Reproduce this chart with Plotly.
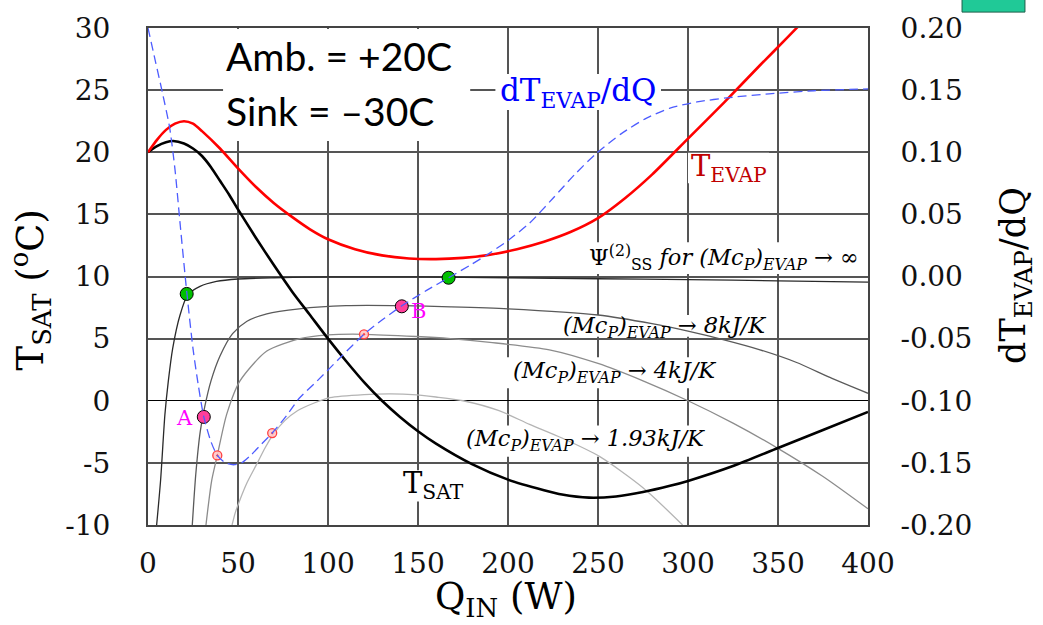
import plotly.graph_objects as go

# ---------------- data ----------------
Q_sat = [0, 5, 10, 14, 20, 25, 30, 35, 40, 45, 50, 60, 70, 80, 90, 100, 110, 120, 130, 140,
         150, 160, 180, 200, 220, 230, 245, 260, 275, 290, 300, 325, 350, 375, 400]
T_sat = [20, 20.5, 20.8, 20.9, 20.7, 20.3, 19.7, 18.8, 17.7, 16.6, 15.4, 13.1, 10.9, 8.8, 6.9, 5.0,
         3.2, 1.5, 0.0, -1.3, -2.45, -3.45, -5.1, -6.35, -7.2, -7.55, -7.8, -7.7, -7.35, -6.85,
         -6.45, -5.25, -3.8, -2.35, -0.9]

Q_evap = [0, 5, 10, 15, 20, 25, 30, 40, 50, 60, 70, 80, 90, 100, 115, 130, 145, 160, 175, 190,
          205, 220, 235, 250, 265, 280, 300, 320, 340, 355, 365]
T_evap = [20, 21.0, 21.8, 22.3, 22.5, 22.3, 21.7, 20.3, 18.7, 17.2, 15.9, 14.8, 13.8, 13.0, 12.2,
          11.7, 11.45, 11.4, 11.5, 11.75, 12.2, 12.8, 13.6, 14.7, 16.3, 18.2, 21.1, 24.0, 27.0, 29.2, 30.7]

Q_dtdq = [0, 4, 8, 12, 15, 18, 21.5, 25, 28, 31, 35, 38.5, 43, 47.5, 52, 57, 63, 69, 77, 84, 94,
          107, 120, 130, 141, 155, 167, 180, 190, 200, 212, 225, 237, 249, 263, 277, 290, 305, 323,
          345, 370, 400]
dTdQ = [0.200, 0.174, 0.148, 0.120, 0.086, 0.040, -0.012, -0.058, -0.088, -0.113, -0.133, -0.144,
        -0.150, -0.1515, -0.150, -0.144, -0.135, -0.126, -0.112, -0.098, -0.084, -0.065, -0.0465,
        -0.035, -0.0236, -0.011, -0.001, 0.010, 0.019, 0.029, 0.043, 0.063, 0.082, 0.099, 0.115,
        0.1275, 0.1355, 0.1405, 0.144, 0.147, 0.1495, 0.151]

Q_inf = [4.8, 7.0, 9.4, 11.3, 13.7, 17.8, 22, 28.9, 38, 50, 70, 100, 150, 200, 250, 300, 350, 400]
T_inf = [-10, -6.4, -1.1, 1.6, 4.2, 6.9, 8.5, 9.2, 9.6, 9.8, 9.9, 9.97, 9.97, 9.9, 9.82, 9.75, 9.65, 9.55]

Q_8k = [24.6, 26.5, 29, 31.5, 35, 40, 47, 55, 66, 84, 110, 141, 168, 200, 250, 280, 300, 320, 340,
        360, 380, 400]
T_8k = [-10, -6, -2.5, -0.5, 1.6, 3.6, 5.4, 6.4, 7.0, 7.4, 7.65, 7.65, 7.56, 7.4, 6.9, 6.2, 5.6,
        4.9, 4.1, 3.1, 1.8, 0.6]

Q_4k = [32.2, 35.4, 38.5, 43.7, 51.1, 66, 84.4, 100, 119.6, 149, 168, 190, 223, 250, 275, 300, 325,
        349, 375, 400]
T_4k = [-10, -6.4, -4.4, -1.1, 1.6, 4.0, 5.0, 5.3, 5.35, 5.17, 5.0, 4.7, 4.1, 3.0, 1.6, 0.0, -1.8,
        -3.75, -6.1, -8.7]

Q_193 = [46.7, 48.5, 51, 55, 60.4, 65, 69.6, 76, 83, 92, 101, 120, 135, 147, 160, 175, 195, 212,
         230, 251, 275, 297]
T_193 = [-10, -9.0, -8.0, -6.6, -5.1, -3.8, -2.7, -1.6, -0.8, -0.2, 0.25, 0.5, 0.55, 0.5, 0.3, 0.0,
         -0.8, -1.9, -3.0, -4.5, -7.0, -10]

green_Q = [21.5, 167]
green_T = [8.6, 9.9]
pink_Q = [31, 141]
pink_T = [-1.3, 7.6]
pink_labels = ["A", "B"]
red_Q = [38.5, 69, 120]
red_T = [-4.4, -2.6, 5.35]

x_ticks = [0, 50, 100, 150, 200, 250, 300, 350, 400]
y_ticks = [-10, -5, 0, 5, 10, 15, 20, 25, 30]
y2_ticks = [-0.20, -0.15, -0.10, -0.05, 0.00, 0.05, 0.10, 0.15, 0.20]

# ---------------- figure ----------------
fig = go.Figure()

def curve(q, t, color, width, yaxis="y", dash=None):
    fig.add_trace(go.Scatter(x=q, y=t, mode="lines", yaxis=yaxis,
                             line=dict(color=color, width=width, dash=dash, shape="spline", smoothing=0.7),
                             hoverinfo="skip", showlegend=False))

curve(Q_193, T_193, "#b4b4b4", 1.3)
curve(Q_4k, T_4k, "#8c8c8c", 1.3)
curve(Q_8k, T_8k, "#5a5a5a", 1.3)
curve(Q_inf, T_inf, "#2a2a2a", 1.3)
curve(Q_sat, T_sat, "#000000", 2.6)
curve(Q_evap, T_evap, "#ff0000", 2.6)
curve(Q_dtdq, dTdQ, "#4d5cff", 1.3, yaxis="y2", dash="9px,5px")

fig.add_trace(go.Scatter(x=red_Q, y=red_T, mode="markers", showlegend=False, hoverinfo="skip",
                         marker=dict(symbol="circle-dot", size=9, color="rgba(255,200,200,0.9)",
                                     line=dict(color="#ff4040", width=1.3))))
fig.add_trace(go.Scatter(x=green_Q, y=green_T, mode="markers", showlegend=False, hoverinfo="skip",
                         marker=dict(symbol="circle", size=13, color="#00c000",
                                     line=dict(color="#000000", width=1))))
fig.add_trace(go.Scatter(x=pink_Q, y=pink_T, mode="markers", showlegend=False, hoverinfo="skip",
                         marker=dict(symbol="circle", size=13, color="#ff3f9a",
                                     line=dict(color="#000000", width=1))))

serif = "DejaVu Serif"

# white boxes behind labels (above grid, below curves)
boxes = [
    (41.7, 179, 20.9, 29.92),
    (193, 285, 23.4, 26.3),
    (300, 345, 17.5, 19.95),
    (244, 394.5, 10.2, 12.75),
    (225, 348, 5.15, 6.9),
    (199, 322, 1.0, 3.5),
    (171, 320, -4.5, -2.0),
    (141, 176, -8.1, -5.6),
]
for x0, x1, y0, y1 in boxes:
    fig.add_shape(type="rect", xref="x", yref="y", x0=x0, x1=x1, y0=y0, y1=y1,
                  fillcolor="white", line=dict(width=0), layer="between")

ann = []
def text(x, y, s, size, color="black", family=serif, xanchor="center", **kw):
    ann.append(dict(x=x, y=y, xref="x", yref="y", text=s, showarrow=False, xanchor=xanchor,
                    yanchor="middle", font=dict(size=size, color=color, family=family), **kw))

text(42.0, 27.75, "Amb. = +20C", 39, family="Lato", xanchor="left")
text(42.0, 23.3, "Sink = \u201330C", 39, family="Lato", xanchor="left")
text(239, 24.8, "dT<sub>EVAP</sub>/dQ", 31, color="#0000ff")
text(323, 18.7, "T<sub>EVAP</sub>", 29, color="#c00000")
text(320, 11.55, "\u03a8<sup>(2)</sup><sub>SS</sub> <i>for (Mc<sub>P</sub>)<sub>EVAP</sub> \u2192 \u221e</i>", 22.5)
text(287, 5.95, "<i>(Mc<sub>P</sub>)<sub>EVAP</sub> \u2192 8kJ/K</i>", 22.5)
text(259, 2.35, "<i>(Mc<sub>P</sub>)<sub>EVAP</sub> \u2192 4kJ/K</i>", 22.5)
text(243, -3.15, "<i>(Mc<sub>P</sub>)<sub>EVAP</sub> \u2192 1.93kJ/K</i>", 22.5)
text(158.5, -6.8, "T<sub>SAT</sub>", 29)
text(20, -1.35, pink_labels[0], 21, color="#ff00ff")
text(150.5, 7.25, pink_labels[1], 21, color="#ff00ff")

# axis titles
ann.append(dict(x=-0.163, y=0.473, xref="paper", yref="paper", text="T<sub>SAT</sub> (<sup>o</sup>C)",
                textangle=-90, showarrow=False, xanchor="center", yanchor="middle",
                font=dict(size=37, family=serif, color="black")))
ann.append(dict(x=1.204, y=0.503, xref="paper", yref="paper", text="dT<sub>EVAP</sub>/dQ",
                textangle=-90, showarrow=False, xanchor="center", yanchor="middle",
                font=dict(size=35, family=serif, color="black")))
ann.append(dict(x=0.497, y=-0.1497, xref="paper", yref="paper", text="Q<sub>IN</sub> (W)",
                showarrow=False, xanchor="center", yanchor="middle",
                font=dict(size=37, family=serif, color="black")))

# small teal rectangle at the top right corner of the picture
fig.add_shape(type="rect", xref="paper", yref="paper", x0=1.1306, x1=1.218, y0=1.032, y1=1.06,
              fillcolor="#20c997", line=dict(color="#1d5e4a", width=1))

grid = "#555555"
tick_font = dict(family=serif, size=28, color="#111")
fig.update_layout(
    width=1043, height=625, autosize=False,
    margin=dict(l=148, r=175, t=24, b=100),
    paper_bgcolor="white", plot_bgcolor="white",
    annotations=ann, showlegend=False,
    xaxis=dict(range=[0, 400], tickvals=x_ticks, ticktext=[str(v) for v in x_ticks],
               showgrid=True, gridcolor=grid, gridwidth=1.5, zeroline=False,
               showline=True, linecolor="#444", linewidth=2, mirror=True, ticks="",
               ticklabelstandoff=12, tickfont=tick_font),
    yaxis=dict(range=[-10, 30], tickvals=y_ticks, ticktext=[str(v) for v in y_ticks],
               showgrid=True, gridcolor=grid, gridwidth=1.5, zeroline=True, zerolinecolor="#000",
               zerolinewidth=1.2, showline=True, linecolor="#444", linewidth=2, ticks="",
               ticklabelstandoff=30, tickfont=tick_font),
    yaxis2=dict(range=[-0.2, 0.2], overlaying="y", side="right", tickvals=y2_ticks,
                ticktext=["%.2f" % v for v in y2_ticks], showgrid=False, zeroline=False,
                showline=True, linecolor="#444", linewidth=2, ticks="",
                ticklabelstandoff=25, tickfont=tick_font),
)

fig.write_html("out.html")
